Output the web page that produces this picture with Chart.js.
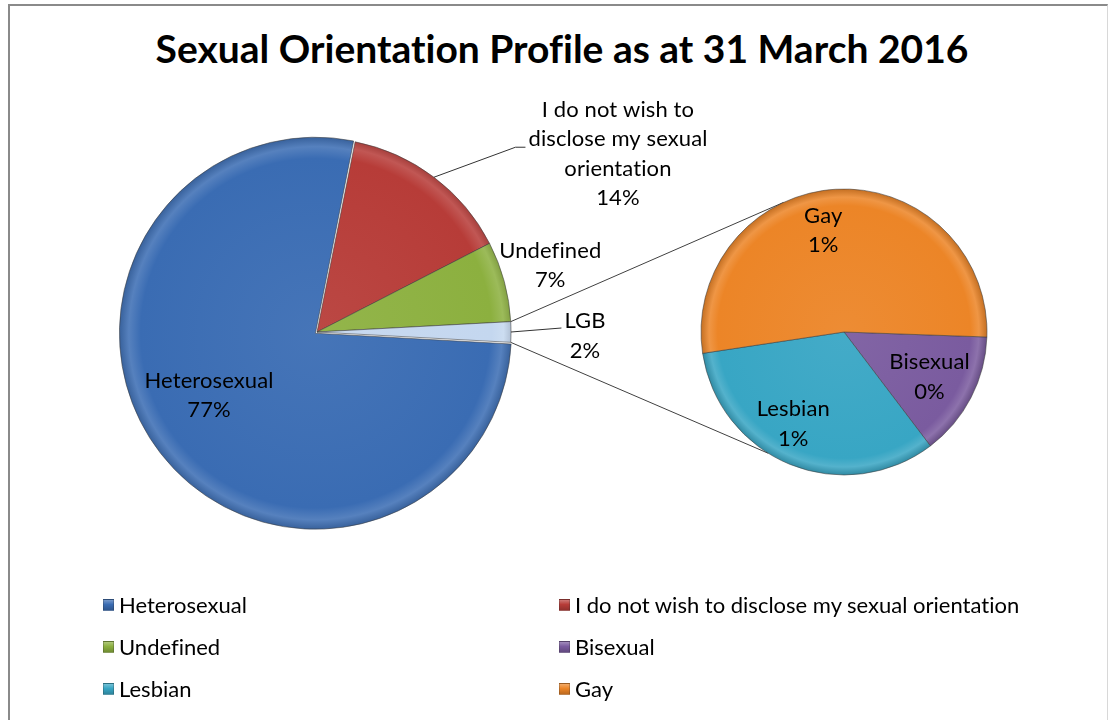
<!DOCTYPE html>
<html>
<head>
<meta charset="utf-8">
<title>Sexual Orientation Profile as at 31 March 2016</title>
<script src="https://cdn.jsdelivr.net/npm/chart.js@4.4.1/dist/chart.umd.min.js"></script>
<style>
  body { margin: 0; background: #fff; font-family: Lato, 'Open Sans', sans-serif; color: #000; }
  #wrap { position: relative; width: 1110px; height: 720px; overflow: hidden; background: #fff;
          font-variant-ligatures: none; }
  #frame { position: absolute; left: 8px; top: 4px; width: 1097px; height: 760px;
           border-left: 2px solid #8a8a8a; border-top: 2px solid #8a8a8a; border-right: 1px solid #d8d8d8; }
  canvas { position: absolute; left: 0; top: 0; }
  #title { position: absolute; left: 0; width: 1124px; top: 29px; text-align: center;
           font-weight: bold; font-size: 39px; line-height: 39px; white-space: nowrap; }
  .item { position: absolute; font-size: 22px; line-height: 24px; white-space: nowrap; }
  .box { position: absolute; width: 11px; height: 12px; box-sizing: border-box; border: 1px solid rgba(40,40,40,0.25); }
</style>
</head>
<body>
<div id="wrap">
  <div id="frame"></div>
  <div id="title">Sexual Orientation Profile as at 31 March 2016</div>
  <canvas id="mainPie" width="1110" height="720"></canvas>
  <canvas id="lgbPie" width="1110" height="720"></canvas>
  <div id="legend"></div>
</div>
<script>
// values (percent of all staff)
const mainLabels = ['Heterosexual', 'I do not wish to disclose my sexual orientation', 'Undefined', 'LGB'];
const mainValues = [77.3, 14.3, 6.7, 1.7];
const lgbLabels = ['Bisexual', 'Lesbian', 'Gay'];
const lgbValues = [0.24, 0.56, 0.9];

const mainColors = ['#3a6cb3', '#b73c38', '#8cb03f', '#c4d7ef'];
const lgbColors = ['#7a5b9f', '#38a6c4', '#ec8527'];

const total = mainValues.reduce((a, b) => a + b, 0);

function shade(hex, amt) {
    // amt > 0 lightens, amt < 0 darkens
    const n = parseInt(hex.slice(1), 16);
    let r = n >> 16, g = (n >> 8) & 255, b = n & 255;
    const t = amt < 0 ? 0 : 255, p = Math.abs(amt);
    r = Math.round(r + (t - r) * p); g = Math.round(g + (t - g) * p); b = Math.round(b + (t - b) * p);
    return 'rgb(' + r + ',' + g + ',' + b + ')';
}

// bevel-ish fill like the Excel 2007 pies
function sliceFill(colors) {
    return function (context) {
        const base = colors[context.dataIndex];
        const area = context.chart.chartArea;
        if (!area) return base;
        const cx = (area.left + area.right) / 2;
        const cy = (area.top + area.bottom) / 2;
        const r = Math.min(area.right - area.left, area.bottom - area.top) / 2;
        const g = context.chart.ctx.createRadialGradient(cx, cy, 0, cx, cy, r);
        g.addColorStop(0, shade(base, 0.06));
        g.addColorStop(0.88, base);
        g.addColorStop(0.94, shade(base, 0.14));
        g.addColorStop(1, shade(base, -0.18));
        return g;
    };
}

// data labels drawn next to / inside the slices
const pieLabels = {
    id: 'pieLabels',
    afterDatasetsDraw(chart, args, opts) {
        const ctx = chart.ctx;
        const arcs = chart.getDatasetMeta(0).data;
        const values = chart.data.datasets[0].data;
        ctx.save();
        ctx.font = '22px Lato';
        ctx.letterSpacing = '0.1px'; // no "ti" ligature
        ctx.fillStyle = '#000';
        ctx.textAlign = 'center';
        ctx.textBaseline = 'middle';
        arcs.forEach((arc, i) => {
            const p = opts.place[i];
            const mid = (arc.startAngle + arc.endAngle) / 2;
            const ex = arc.x + Math.cos(mid) * arc.outerRadius;
            const ey = arc.y + Math.sin(mid) * arc.outerRadius;
            const cx = arc.x + Math.cos(mid) * arc.outerRadius * p.r + p.dx;
            const cy = arc.y + Math.sin(mid) * arc.outerRadius * p.r + p.dy;
            const lines = (p.lines || [chart.data.labels[i]]).concat(Math.round(values[i] / total * 100) + '%');
            const lh = 29.5;
            const top = cy - (lines.length - 1) * lh / 2;
            lines.forEach((t, k) => ctx.fillText(t, cx, top + k * lh));
            if (p.leader !== undefined) {
                const w = Math.max(...lines.map(t => ctx.measureText(t).width));
                const left = cx - w / 2;
                ctx.strokeStyle = '#333';
                ctx.lineWidth = 1;
                ctx.beginPath();
                ctx.moveTo(ex, ey);
                if (p.elbow) {
                    ctx.lineTo(left - p.elbow, cy + p.leader);
                }
                ctx.lineTo(left - 3, cy + p.leader);
                ctx.stroke();
            }
        });
        ctx.restore();
    }
};

// lines joining the LGB slice to the second pie
const joinLines = {
    id: 'joinLines',
    beforeDatasetsDraw(chart) {
        const src = mainChart.getDatasetMeta(0).data[3];
        const dst = chart.getDatasetMeta(0).data[0];
        const R = dst.outerRadius;
        const a1 = (335 - 90) * Math.PI / 180;
        const a2 = (212 - 90) * Math.PI / 180;
        const ctx = chart.ctx;
        ctx.save();
        ctx.strokeStyle = '#404040';
        ctx.lineWidth = 1;
        ctx.beginPath();
        ctx.moveTo(src.x + Math.cos(src.startAngle) * src.outerRadius, src.y + Math.sin(src.startAngle) * src.outerRadius);
        ctx.lineTo(dst.x + Math.cos(a1) * R, dst.y + Math.sin(a1) * R);
        ctx.moveTo(src.x + Math.cos(src.endAngle) * src.outerRadius, src.y + Math.sin(src.endAngle) * src.outerRadius);
        ctx.lineTo(dst.x + Math.cos(a2) * R, dst.y + Math.sin(a2) * R);
        ctx.stroke();
        ctx.restore();
    }
};

const common = {
    responsive: false,
    animation: false,
    events: [],
    plugins: { legend: { display: false }, tooltip: { enabled: false } }
};

const mainChart = new Chart(document.getElementById('mainPie'), {
    type: 'pie',
    data: {
        labels: mainLabels,
        datasets: [{
            data: mainValues,
            backgroundColor: sliceFill(mainColors),
            borderColor: 'rgba(60,60,60,0.55)',
            borderWidth: 1,
            hoverBorderWidth: 1,
            offset: [8, 0, 0, 0],
            hoverOffset: 0
        }]
    },
    options: Object.assign({}, common, {
        rotation: 90 + mainValues[3] / total * 180,
        layout: { padding: { left: 118.5, top: 133.5, right: 594.5, bottom: 189.5 } },
        plugins: Object.assign({}, common.plugins, {
            pieLabels: {
                place: [
                    { r: 0.6, dx: -16, dy: -8 },
                    { r: 1, dx: 184, dy: -23.5, lines: ['I do not wish to', 'disclose my sexual', 'orientation'], leader: -6.5, elbow: 13 },
                    { r: 1, dx: 46, dy: -16 },
                    { r: 1, dx: 74, dy: 4, lines: ['LGB'], leader: -8 }
                ]
            }
        })
    }),
    plugins: [pieLabels]
});

const lgbChart = new Chart(document.getElementById('lgbPie'), {
    type: 'pie',
    data: {
        labels: lgbLabels,
        datasets: [{
            data: lgbValues,
            backgroundColor: sliceFill(lgbColors),
            borderColor: 'rgba(60,60,60,0.55)',
            borderWidth: 1,
            hoverBorderWidth: 1,
            hoverOffset: 0
        }]
    },
    options: Object.assign({}, common, {
        rotation: 92,
        layout: { padding: { left: 700.5, top: 188.5, right: 122.5, bottom: 244.5 } },
        plugins: Object.assign({}, common.plugins, {
            pieLabels: {
                place: [
                    { r: 0.65, dx: 3, dy: 2 },
                    { r: 0.7, dx: -13, dy: -1 },
                    { r: 0.7, dx: -15, dy: -1.5 }
                ]
            }
        })
    }),
    plugins: [joinLines, pieLabels]
});

// legend in two columns, same order as the original
const legendNames = mainLabels.slice(0, 3).concat(lgbLabels);
const legendColors = mainColors.slice(0, 3).concat(lgbColors);
const legend = document.getElementById('legend');
const colX = [119, 575];
const rowY = [605, 647, 689];
legendNames.forEach((name, i) => {
    const x = colX[i % 2], y = rowY[Math.floor(i / 2)];
    const box = document.createElement('div');
    box.className = 'box';
    box.style.left = (x - 16) + 'px';
    box.style.top = (y - 6) + 'px';
    box.style.background = 'linear-gradient(' + shade(legendColors[i], 0.3) + ', ' + legendColors[i] + ' 45%, ' + shade(legendColors[i], -0.2) + ')';
    legend.appendChild(box);
    const item = document.createElement('div');
    item.className = 'item';
    item.style.left = x + 'px';
    item.style.top = (y - 12.5) + 'px';
    item.textContent = name;
    legend.appendChild(item);
});
</script>
</body>
</html>
